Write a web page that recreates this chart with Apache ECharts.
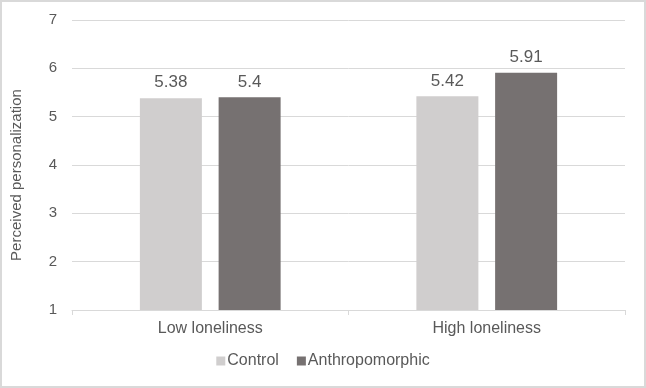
<!DOCTYPE html>
<html>
<head>
<meta charset="utf-8">
<script src="https://cdn.jsdelivr.net/npm/echarts@6/dist/echarts.min.js"></script>
<style>
  html, body { margin: 0; padding: 0; background: #fff; }
  #chart { width: 646px; height: 388px; }
</style>
</head>
<body>
<div id="chart"></div>
<script>
  var categories = ['Low loneliness', 'High loneliness'];
  var controlValues = [5.38, 5.42];
  var anthroValues = [5.4, 5.91];
  var seriesNames = ['Control', 'Anthropomorphic'];

  var chart = echarts.init(document.getElementById('chart'));
  var textColor = '#595959';
  var fontFamily = '"Liberation Sans", Arial, sans-serif';

  chart.setOption({
    backgroundColor: '#fff',
    textStyle: { fontFamily: fontFamily, color: textColor },
    graphic: [{
      type: 'rect',
      shape: { x: 1, y: 1, width: 644, height: 386 },
      style: { fill: 'none', stroke: '#d9d9d9', lineWidth: 2 },
      silent: true
    }],
    // 图例
    legend: {
      bottom: 14,
      left: 'center',
      icon: 'rect',
      itemWidth: 9,
      itemHeight: 9,
      itemGap: 18,
      data: seriesNames,
      textStyle: { fontSize: 16, color: textColor, fontFamily: fontFamily, padding: [0, 0, 0, -3] }
    },
    grid: {
      top: 20,
      left: 72,
      right: 21,
      bottom: 78
    },
    xAxis: [{
      type: 'category',
      data: categories,
      axisLine: { lineStyle: { color: '#d9d9d9', width: 1 } },
      axisTick: { show: true, length: 5, lineStyle: { color: '#d9d9d9' } },
      axisLabel: { fontSize: 16, color: textColor, margin: 11 }
    }],
    yAxis: [{
      type: 'value',
      min: 1,
      max: 7,
      interval: 1,
      name: 'Perceived personalization',
      nameLocation: 'middle',
      nameGap: 48,
      nameTextStyle: { fontSize: 15, color: textColor, padding: [0, 20, 0, 0] },
      axisLine: { show: false },
      axisTick: { show: false },
      axisLabel: { fontSize: 15, color: textColor, margin: 15 },
      splitLine: { lineStyle: { color: '#d9d9d9', width: 1 } }
    }],
    series: [{
      name: seriesNames[0],
      type: 'bar',
      barWidth: 62,
      barGap: '27%',
      itemStyle: { color: '#d0cece' },
      label: { show: true, position: 'top', distance: 7, fontSize: 17, color: textColor },
      data: controlValues
    }, {
      name: seriesNames[1],
      type: 'bar',
      barWidth: 62,
      barGap: '27%',
      itemStyle: { color: '#767171' },
      label: { show: true, position: 'top', distance: 7, fontSize: 17, color: textColor },
      data: anthroValues
    }]
  });
</script>
</body>
</html>
